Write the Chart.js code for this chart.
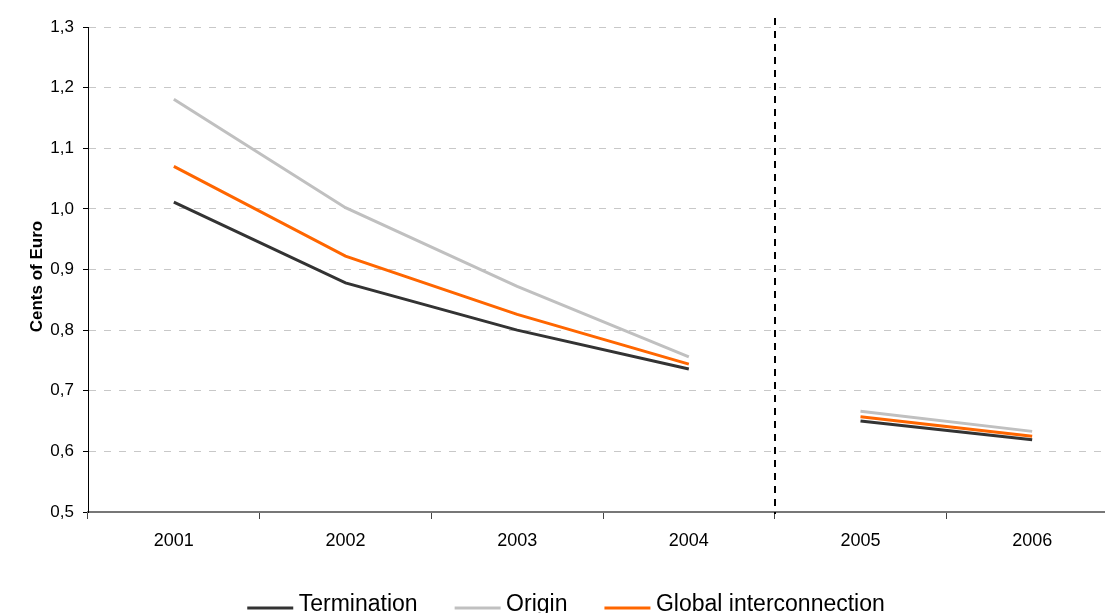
<!DOCTYPE html>
<html>
<head>
<meta charset="utf-8">
<script src="https://cdn.jsdelivr.net/npm/chart.js@4.4.1/dist/chart.umd.min.js"></script>
<style>
  html, body { margin: 0; padding: 0; background: #fff; overflow: hidden; }
  #wrap { width: 1125px; height: 626px; }
</style>
</head>
<body>
<div id="wrap"><canvas id="chart"></canvas></div>
<script>
// Dados
const anos = ['2001', '2002', '2003', '2004', '2005', '2006'];
const termination = [1.011, 0.878, 0.800, 0.736, 0.650, 0.619];
const origin = [1.181, 1.002, 0.872, 0.756, 0.666, 0.633];
const globalInterconnection = [1.070, 0.922, 0.826, 0.744, 0.657, 0.625];

const FONT = 'Liberation Sans, Arial, sans-serif';

// Ícone da legenda: traço perto da base do texto
function iconeLegenda(cor) {
    const c = document.createElement('canvas');
    c.width = 68;
    c.height = 24;
    const g = c.getContext('2d');
    g.fillStyle = cor;
    g.fillRect(21, 14, 46, 3);
    return c;
}

// Quebra a linha entre 2004 e 2005
function serie(label, data, cor) {
    return {
        label: label,
        data: data,
        borderColor: cor,
        backgroundColor: cor,
        borderWidth: 3,
        pointRadius: 0,
        pointHoverRadius: 0,
        pointStyle: iconeLegenda(cor),
        tension: 0,
        segment: {
            borderColor: ctx => ctx.p0DataIndex === 3 ? 'rgba(0,0,0,0)' : cor
        }
    };
}

// Linha vertical tracejada entre 2004 e 2005
const linhaDivisoria = {
    id: 'linhaDivisoria',
    afterDatasetsDraw(chart) {
        const x = chart.scales.x;
        const area = chart.chartArea;
        const px = (x.getPixelForValue(3) + x.getPixelForValue(4)) / 2;
        const ctx = chart.ctx;
        ctx.save();
        ctx.strokeStyle = '#000';
        ctx.lineWidth = 2;
        ctx.setLineDash([7, 6]);
        ctx.beginPath();
        ctx.moveTo(Math.round(px), area.top - 9);
        ctx.lineTo(Math.round(px), area.bottom + 2);
        ctx.stroke();
        ctx.restore();
    }
};

new Chart(document.getElementById('chart'), {
    type: 'line',
    data: {
        labels: anos,
        datasets: [
            serie('Termination', termination, '#333333'),
            serie('Origin', origin, '#C0C0C0'),
            serie('Global interconnection', globalInterconnection, '#FF6600')
        ]
    },
    options: {
        responsive: true,
        maintainAspectRatio: false,
        animation: false,
        layout: { padding: { top: 27, right: 7, left: 0, bottom: 0 } },
        scales: {
            x: {
                offset: true,
                grid: { offset: true, drawOnChartArea: false, tickLength: 7, tickColor: '#444', tickWidth: 1 },
                border: { color: '#777', width: 2 },
                ticks: { color: '#000', font: { family: FONT, size: 18 }, padding: 11, maxRotation: 0 },
                afterFit: s => { s.height = 58; }
            },
            y: {
                min: 0.5,
                max: 1.3,
                ticks: {
                    stepSize: 0.1,
                    color: '#000',
                    font: { family: FONT, size: 17 },
                    padding: 9,
                    callback: v => v.toFixed(1).replace('.', ',')
                },
                grid: { color: '#c8c8c8', tickColor: '#000', tickLength: 5, tickBorderDash: [] },
                border: { color: '#000', width: 1, dash: [7, 8] },
                title: {
                    display: true,
                    text: 'Cents of Euro   ',
                    color: '#000',
                    font: { family: FONT, size: 17, weight: 'bold' },
                    padding: { top: 27, bottom: 0 }
                },
                afterFit: s => { s.width = 88; }
            }
        },
        plugins: {
            legend: {
                position: 'bottom',
                labels: {
                    color: '#000',
                    font: { family: FONT, size: 23 },
                    usePointStyle: true,
                    pointStyleWidth: 54,
                    padding: 23
                }
            },
            tooltip: { enabled: false }
        }
    },
    plugins: [linhaDivisoria]
});
</script>
</body>
</html>
